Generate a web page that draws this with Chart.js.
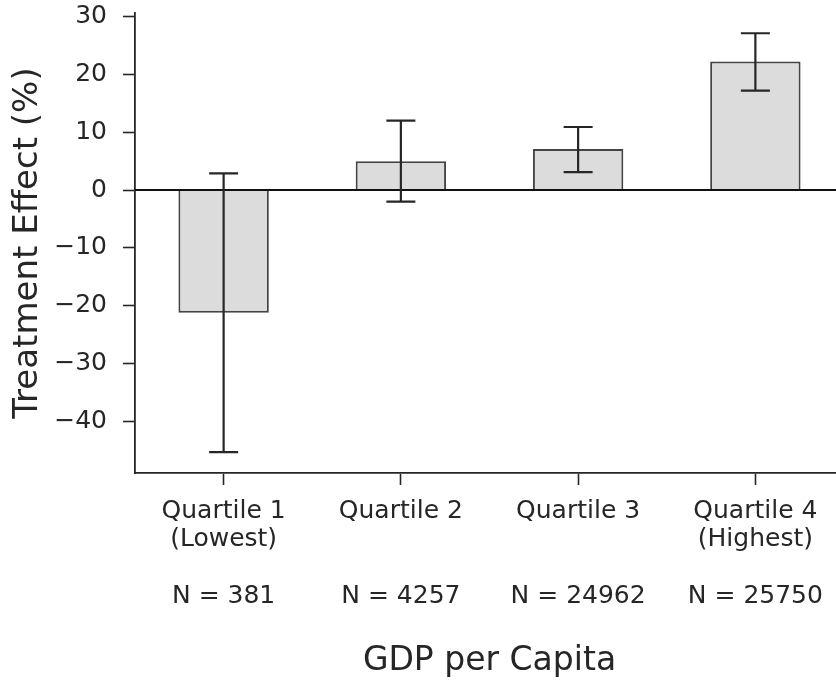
<!DOCTYPE html>
<html>
<head>
<meta charset="utf-8">
<script src="https://cdn.jsdelivr.net/npm/chart.js@4.4.1/dist/chart.umd.min.js"></script>
<style>
  html, body { margin: 0; padding: 0; background: #fff; overflow: hidden; }
  #wrap { width: 844px; height: 683px; position: relative; }
</style>
</head>
<body>
<div id="wrap"><canvas id="effectChart"></canvas></div>
<script>

// quartile labels (multi-line, like the original tick labels)
var quartiles = [
  ["Quartile 1", "(Lowest)", "", "N = 381"],
  ["Quartile 2", "", "", "N = 4257"],
  ["Quartile 3", "", "", "N = 24962"],
  ["Quartile 4", "(Highest)", "", "N = 25750"]
];

// treatment effect in % and its interval
var effect  = [-21.2, 5.0, 7.1, 22.2];
var errLow  = [-45.3, -2.0, 3.1, 17.2];
var errHigh = [2.9, 12.0, 10.9, 27.1];

var yTicks = [-40, -30, -20, -10, 0, 10, 20, 30];

var ink = '#262626';

// zero line + error bars, drawn with the chart's own scales
var errorBars = {
  id: 'errorBars',
  afterDatasetsDraw: function(chart){
    var ctx = chart.ctx;
    var y = chart.scales.y;
    var area = chart.chartArea;
    var meta = chart.getDatasetMeta(0);

    ctx.save();
    ctx.strokeStyle = '#111';
    ctx.lineWidth = 2;
    var y0 = y.getPixelForValue(0);
    ctx.beginPath();
    ctx.moveTo(area.left, y0);
    ctx.lineTo(area.right, y0);
    ctx.stroke();

    ctx.strokeStyle = ink;
    ctx.lineWidth = 2.2;
    var cap = 14.5;
    meta.data.forEach(function(bar, i){
      var top = y.getPixelForValue(errHigh[i]);
      var bot = y.getPixelForValue(errLow[i]);
      ctx.beginPath();
      ctx.moveTo(bar.x, top);
      ctx.lineTo(bar.x, bot);
      ctx.moveTo(bar.x - cap, top);
      ctx.lineTo(bar.x + cap, top);
      ctx.moveTo(bar.x - cap, bot);
      ctx.lineTo(bar.x + cap, bot);
      ctx.stroke();
    });
    ctx.restore();
  }
};

var ctx = document.getElementById('effectChart').getContext('2d');
var chart = new Chart(ctx, {
  type: 'bar',
  data: {
    labels: quartiles,
    datasets: [{
      label: 'Treatment Effect',
      data: effect,
      backgroundColor: '#dcdcdc',
      borderColor: '#444444',
      borderWidth: 2,
      barPercentage: 0.51,
      categoryPercentage: 1.0
    }]
  },
  options: {
    responsive: true,
    maintainAspectRatio: false,
    animation: false,
    layout: { padding: { top: 13, left: 0, right: 0, bottom: 0 } },
    plugins: {
      legend: { display: false },
      tooltip: { enabled: false }
    },
    scales: {
      x: {
        grid: {
          offset: false,
          drawOnChartArea: false,
          drawTicks: true,
          tickLength: 12,
          tickColor: ink,
          tickWidth: 1.6
        },
        border: { display: true, color: ink, width: 1.8 },
        ticks: {
          color: ink,
          padding: 12,
          maxRotation: 0,
          autoSkip: false,
          font: { family: 'DejaVu Sans', size: 25, lineHeight: 1.14 }
        },
        title: {
          display: true,
          text: 'GDP per Capita',
          color: ink,
          padding: { top: 0, bottom: 2 },
          font: { family: 'DejaVu Sans', size: 33, lineHeight: 1.2 }
        },
        afterFit: function(scale){
          scale.height = 210;
          scale.paddingLeft = 0;
          scale.paddingRight = 0;
        }
      },
      y: {
        min: -48.9,
        max: 30.6,
        afterBuildTicks: function(scale){
          scale.ticks = yTicks.map(function(v){ return { value: v }; });
        },
        grid: {
          drawOnChartArea: false,
          drawTicks: true,
          tickLength: 12,
          tickColor: ink,
          tickWidth: 1.6
        },
        border: { display: true, color: ink, width: 1.8 },
        ticks: {
          color: ink,
          padding: 16,
          font: { family: 'DejaVu Sans', size: 25 },
          callback: function(v){ return v < 0 ? '\u2212' + Math.abs(v) : String(v); }
        },
        title: {
          display: true,
          text: 'Treatment Effect (%)',
          color: ink,
          padding: { top: 8, bottom: 0 },
          font: { family: 'DejaVu Sans', size: 34, lineHeight: 1.2 }
        },
        afterFit: function(scale){
          scale.width = 135;
          scale.paddingTop = 0;
          scale.paddingBottom = 0;
        }
      }
    }
  },
  plugins: [errorBars]
});
</script>
</body>
</html>
